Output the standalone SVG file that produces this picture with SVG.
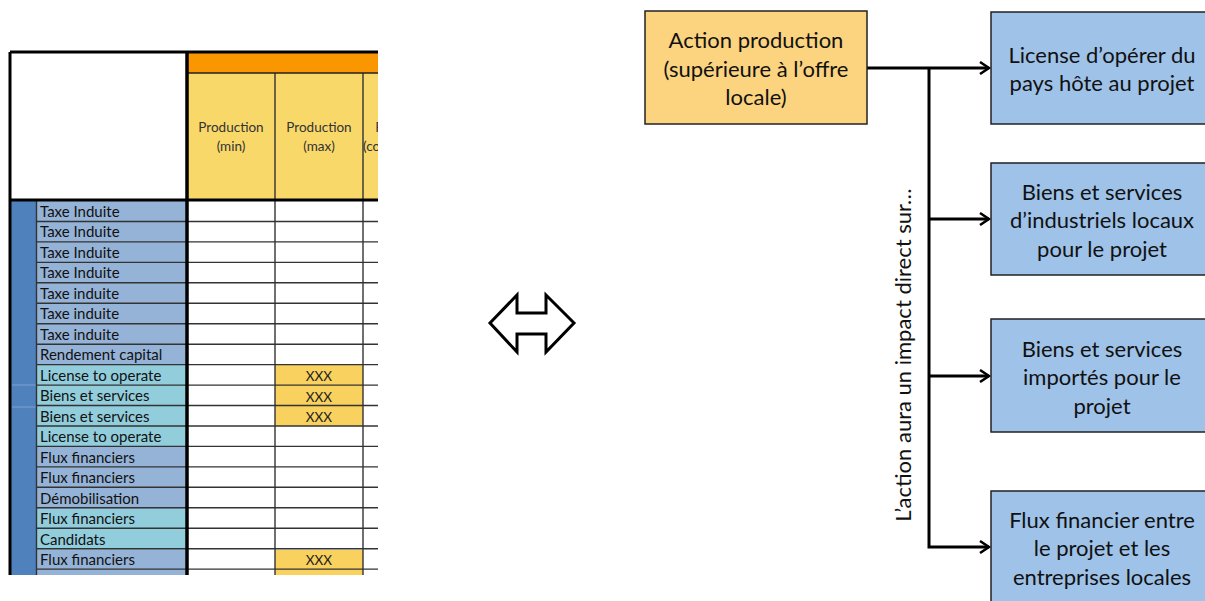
<svg xmlns="http://www.w3.org/2000/svg" width="1205" height="601" viewBox="0 0 1205 601">
<style>
.lbl{font-family:Lato,"Liberation Sans",sans-serif;font-size:15px;fill:#111}
.hdr{font-family:Lato,"Liberation Sans",sans-serif;font-size:13.5px;fill:#333;text-anchor:middle}
.xxx{font-family:Lato,"Liberation Sans",sans-serif;font-size:13.5px;fill:#222;text-anchor:middle}
.big{font-family:Lato,"Liberation Sans",sans-serif;font-size:22px;fill:#111;text-anchor:middle}
.grid{stroke:#333;stroke-width:1.4}
.blue{fill:#95B3D7}
.cyan{fill:#92CDDC}
.node{stroke:#222;stroke-width:1.5}
.conn{fill:none;stroke:#000;stroke-width:3}
</style>
<defs>
<clipPath id="tc"><rect x="0" y="0" width="378" height="575"/></clipPath>
<marker id="ah" markerUnits="userSpaceOnUse" markerWidth="14" markerHeight="14" viewBox="0 0 14 14" refX="11" refY="7" orient="auto">
<path d="M2,1 L11,7 L2,13" fill="none" stroke="#000" stroke-width="2.5"/>
</marker>
</defs>
<rect width="1205" height="601" fill="#fff"/>
<g id="table" clip-path="url(#tc)">
<rect x="10" y="52" width="176" height="148" fill="#fff"/>
<rect x="186" y="52" width="200" height="21" fill="#FA9600"/>
<rect x="186" y="73" width="200" height="127" fill="#F9D86A"/>
<rect x="10" y="200" width="27" height="380" fill="#4F81BD"/>
<line x1="12" y1="385" x2="36" y2="385" stroke="#7FA0CF" stroke-width="1"/>
<line x1="12" y1="407" x2="36" y2="407" stroke="#7FA0CF" stroke-width="1"/>
<g id="labels">
<rect class="blue" x="37" y="201" width="149" height="164"/>
<rect class="cyan" x="37" y="365" width="149" height="82"/>
<rect class="blue" x="37" y="447" width="149" height="62"/>
<rect class="cyan" x="37" y="509" width="149" height="41"/>
<rect class="blue" x="37" y="550" width="149" height="30"/>
</g>
<rect x="275" y="365" width="88" height="61" fill="#F9D15E"/>
<rect x="275" y="550" width="88" height="30" fill="#F9D15E"/>
<g id="gridlines">
<line class="grid" x1="37" y1="221.5" x2="378" y2="221.5"/>
<line class="grid" x1="37" y1="241.9" x2="378" y2="241.9"/>
<line class="grid" x1="37" y1="262.4" x2="378" y2="262.4"/>
<line class="grid" x1="37" y1="282.8" x2="378" y2="282.8"/>
<line class="grid" x1="37" y1="303.3" x2="378" y2="303.3"/>
<line class="grid" x1="37" y1="323.7" x2="378" y2="323.7"/>
<line class="grid" x1="37" y1="344.2" x2="378" y2="344.2"/>
<line class="grid" x1="37" y1="364.6" x2="378" y2="364.6"/>
<line class="grid" x1="37" y1="385.1" x2="378" y2="385.1"/>
<line class="grid" x1="37" y1="405.5" x2="378" y2="405.5"/>
<line class="grid" x1="37" y1="426" x2="378" y2="426"/>
<line class="grid" x1="37" y1="446.4" x2="378" y2="446.4"/>
<line class="grid" x1="37" y1="466.9" x2="378" y2="466.9"/>
<line class="grid" x1="37" y1="487.3" x2="378" y2="487.3"/>
<line class="grid" x1="37" y1="507.8" x2="378" y2="507.8"/>
<line class="grid" x1="37" y1="528.2" x2="378" y2="528.2"/>
<line class="grid" x1="37" y1="548.7" x2="378" y2="548.7"/>
<line class="grid" x1="37" y1="569.1" x2="378" y2="569.1"/>
<line class="grid" x1="275" y1="73" x2="275" y2="580"/>
<line class="grid" x1="363" y1="73" x2="363" y2="580"/>
<line class="grid" x1="36.5" y1="200" x2="36.5" y2="580"/>
<line x1="186" y1="73" x2="378" y2="73" stroke="#222" stroke-width="1.5"/>
</g>
<g id="borders" stroke="#000" fill="none">
<line x1="10" y1="52" x2="10" y2="580" stroke-width="3"/>
<line x1="10" y1="52" x2="378" y2="52" stroke-width="3"/>
<line x1="187" y1="52" x2="187" y2="580" stroke-width="3.5"/>
<line x1="10" y1="200" x2="378" y2="200" stroke-width="3"/>
</g>
<g id="hdrtext">
<text class="hdr" x="231" y="132">Production</text>
<text class="hdr" x="231" y="151">(min)</text>
<text class="hdr" x="319" y="132">Production</text>
<text class="hdr" x="319" y="151">(max)</text>
<text class="hdr" x="408" y="132">Production</text>
<text class="hdr" x="410" y="151">(consommation)</text>
</g>
<g id="rowtext">
<text class="lbl" x="40" y="216.5">Taxe Induite</text>
<text class="lbl" x="40" y="237">Taxe Induite</text>
<text class="lbl" x="40" y="257.5">Taxe Induite</text>
<text class="lbl" x="40" y="278">Taxe Induite</text>
<text class="lbl" x="40" y="298.5">Taxe induite</text>
<text class="lbl" x="40" y="319">Taxe induite</text>
<text class="lbl" x="40" y="339.5">Taxe induite</text>
<text class="lbl" x="40" y="360">Rendement capital</text>
<text class="lbl" x="40" y="380.5">License to operate</text>
<text class="lbl" x="40" y="401">Biens et services</text>
<text class="lbl" x="40" y="421.5">Biens et services</text>
<text class="lbl" x="40" y="442">License to operate</text>
<text class="lbl" x="40" y="462.5">Flux financiers</text>
<text class="lbl" x="40" y="483">Flux financiers</text>
<text class="lbl" x="40" y="503.5">Démobilisation</text>
<text class="lbl" x="40" y="524">Flux financiers</text>
<text class="lbl" x="40" y="544.5">Candidats</text>
<text class="lbl" x="40" y="565">Flux financiers</text>
<text class="xxx" x="319" y="380.5">XXX</text>
<text class="xxx" x="319" y="401.5">XXX</text>
<text class="xxx" x="319" y="421.5">XXX</text>
<text class="xxx" x="319" y="565">XXX</text>
</g>
</g>
<g id="double-arrow">
<polygon points="490,323 517,295 517,313 546,313 546,295 574,323 546,352 546,334 517,334 517,352" fill="#fff" stroke="#000" stroke-width="3" stroke-linejoin="miter"/>
</g>
<g id="connectors">
<path class="conn" d="M867,68 H989" marker-end="url(#ah)"/>
<path class="conn" d="M929,68 V547 H989" marker-end="url(#ah)"/>
<path class="conn" d="M929,219 H989" marker-end="url(#ah)"/>
<path class="conn" d="M929,376 H989" marker-end="url(#ah)"/>
<text class="big" x="911" y="355" transform="rotate(-90 911 355)">L’action aura un impact direct sur…</text>
</g>
<g id="action">
<rect class="node" x="645" y="11" width="222" height="113" fill="#FCD47F"/>
<text class="big" x="756" y="48">Action production</text>
<text class="big" x="756" y="77">(supérieure à l’offre</text>
<text class="big" x="756" y="105">locale)</text>
</g>
<g id="license">
<rect class="node" x="991" y="12" width="222" height="112" fill="#9EC2E8"/>
<text class="big" x="1102" y="63">License d’opérer du</text>
<text class="big" x="1102" y="91">pays hôte au projet</text>
</g>
<g id="biens-locaux">
<rect class="node" x="991" y="163" width="222" height="112" fill="#9EC2E8"/>
<text class="big" x="1102" y="200">Biens et services</text>
<text class="big" x="1102" y="228">d’industriels locaux</text>
<text class="big" x="1102" y="257">pour le projet</text>
</g>
<g id="biens-importes">
<rect class="node" x="991" y="319" width="222" height="113" fill="#9EC2E8"/>
<text class="big" x="1102" y="357">Biens et services</text>
<text class="big" x="1102" y="385">importés pour le</text>
<text class="big" x="1102" y="414">projet</text>
</g>
<g id="flux">
<rect class="node" x="991" y="491" width="222" height="120" fill="#9EC2E8"/>
<text class="big" x="1102" y="528">Flux financier entre</text>
<text class="big" x="1102" y="556">le projet et les</text>
<text class="big" x="1102" y="585">entreprises locales</text>
</g>
</svg>
